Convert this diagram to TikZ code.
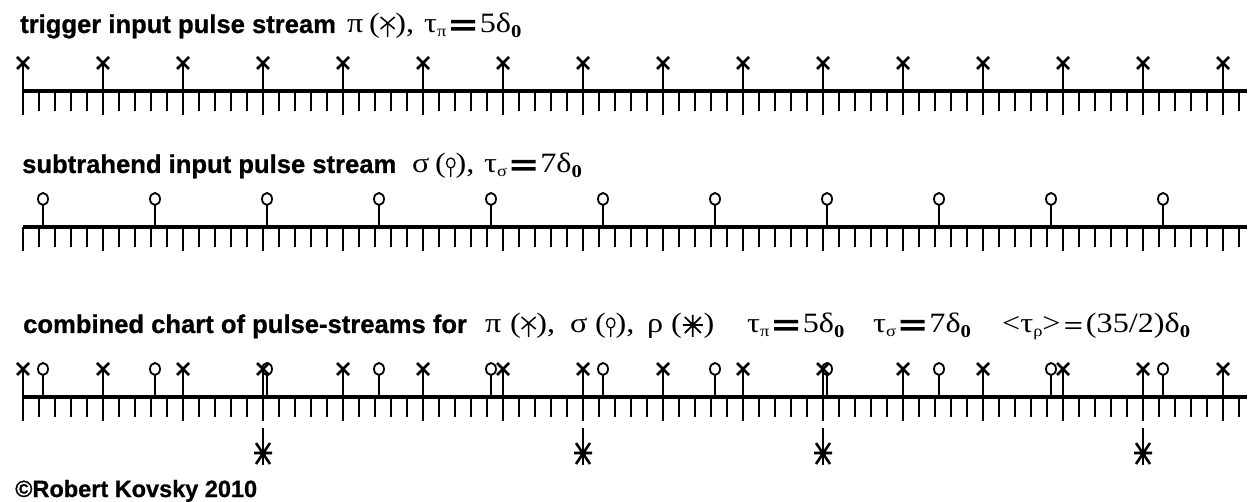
\documentclass[tikz,border=0pt]{standalone}
\usepackage{fontspec}
\setmainfont{Liberation Serif}
\newfontfamily\sansb{Liberation Sans}[BoldFeatures={FakeBold=0.8}]
\newfontfamily\gserif{Liberation Serif}[FakeStretch=1.15]
\newcommand{\TT}{\sansb\bfseries\fontsize{25.6}{30}\selectfont}
\newcommand{\MM}{\gserif\fontsize{28}{32}\selectfont}
\newcommand{\mysub}[1]{\raisebox{-4pt}{\fontsize{16}{16}\selectfont #1}}
\newcommand{\zsub}{\raisebox{-5pt}{\fontsize{18}{18}\selectfont\bfseries 0}}
\newcommand{\beq}{\,\tikz[baseline=0pt,x=1pt,y=1pt]{\fill (0,2.4) rectangle (24,5.8) (0,9.6) rectangle (24,13);}\,}
\newcommand{\thineq}{\,\tikz[baseline=0pt,x=1pt,y=1pt]{\fill (0,4.2) rectangle (16,5.6) (0,9.4) rectangle (16,10.8);}\,}
\newcommand{\symX}{\tikz[baseline=0pt,x=1pt,y=1pt,line width=1.5pt]{\draw (0,-4)--(0,10) (-7,4)--(7,16) (-7,16)--(7,4);}}
\newcommand{\symO}{\tikz[baseline=0pt,x=1pt,y=1pt,line width=1.3pt]{\draw (0,-4)--(0,5) (0,10) ellipse [x radius=4.2,y radius=5];}}
\newcommand{\symR}{\tikz[baseline=0pt,x=1pt,y=1pt,line width=1.8pt]{\draw (0,18)--(0,-4) (-10,8)--(10,8) (-8,16)--(8,0) (8,16)--(-8,0); \fill (0,8) circle (2.6);}}
\newcommand{\tauEq}[2]{τ\mysub{#1}\beq#2δ\zsub}
\tikzset{
  axisline/.style={line width=3.4pt},
  tickline/.style={line width=2.2pt},
  stemline/.style={line width=2.2pt},
  xline/.style={line width=2.6pt},
  oline/.style={line width=1.8pt},
  rline/.style={line width=2.6pt},
  ttl/.style={anchor=base west, inner sep=0pt, font=\TT},
  mth/.style={anchor=base west, inner sep=0pt, font=\MM},
}
\newcommand{\Axis}[1]{%
  \draw[axisline] (23,#1) -- (1247,#1);
  \foreach \k in {0,...,76} \draw[tickline] (23+16*\k,#1) -- (23+16*\k,#1+20);
  \foreach \k in {0,5,...,75} \draw[tickline] (23+16*\k,#1) -- (23+16*\k,#1+24);
}
\newcommand{\PiMark}[2]{%
  \draw[stemline] (#1,#2) -- (#1,#2-28);
  \draw[xline] (#1-6,#2-34) -- (#1+6,#2-22) (#1-6,#2-22) -- (#1+6,#2-34);
}
\newcommand{\SigMark}[2]{%
  \draw[stemline] (#1,#2) -- (#1,#2-22);
  \draw[oline] (#1,#2-28) ellipse [x radius=5, y radius=6];
}
\newcommand{\RhoMark}[2]{%
  \draw[stemline] (#1,#2+31) -- (#1,#2+68);
  \draw[rline] (#1-9,#2+56) -- (#1+9,#2+56) (#1-7,#2+46) -- (#1+7,#2+67) (#1+7,#2+46) -- (#1-7,#2+67);
  \fill (#1,#2+56) circle (3.2);
}
\begin{document}
\begin{tikzpicture}[x=1pt,y=-1pt]
\useasboundingbox (0,0) rectangle (1248,502);
% row 1
\node[ttl] (t1) at (20,33) {trigger input pulse stream};
\node[mth] (m1a) at (347,33) {π};
\node[mth] (m1b) at (369,33) {(\symX),};
\node[mth] (m1c) at (424,33) {\tauEq{π}{5}};
\Axis{91}
\foreach \k in {0,...,15} {\PiMark{23+80*\k}{91}}
% row 2
\node[ttl] (t2) at (22,173) {subtrahend input pulse stream};
\node[mth] (m2a) at (412,173) {σ};
\node[mth] (m2b) at (435,173) {(\symO),};
\node[mth] (m2c) at (484,173) {\tauEq{σ}{7}};
\Axis{227}
\foreach \k in {0,...,10} {\SigMark{43+112*\k}{227}}
% row 3
\node[ttl] (t3) at (23,333) {combined chart of pulse-streams for};
\node[mth] (m3a) at (485,333) {π};
\node[mth] (m3b) at (510,333) {(\symX),};
\node[mth] (m3c) at (570,333) {σ};
\node[mth] (m3d) at (595,333) {(\symO),};
\node[mth] (m3e) at (647,333) {ρ};
\node[mth] (m3f) at (671,333) {(\symR)};
\node[mth] (m4) at (747,333) {\tauEq{π}{5}};
\node[mth] (m5) at (873,333) {\tauEq{σ}{7}};
\node[mth] (m6) at (1002,333) {<τ\mysub{ρ}>\thineq(35/2)δ\zsub};
\Axis{397}
\foreach \k in {0,...,15} {\PiMark{23+80*\k}{397}}
\foreach \k in {0,...,10} {\SigMark{43+112*\k}{397}}
\foreach \xx in {263,583,823,1143} {\RhoMark{\xx}{397}}
% copyright
\node[ttl, font=\sansb\bfseries\fontsize{23.5}{28}\selectfont] (cr) at (15,497) {©Robert Kovsky 2010};
\end{tikzpicture}
\end{document}
